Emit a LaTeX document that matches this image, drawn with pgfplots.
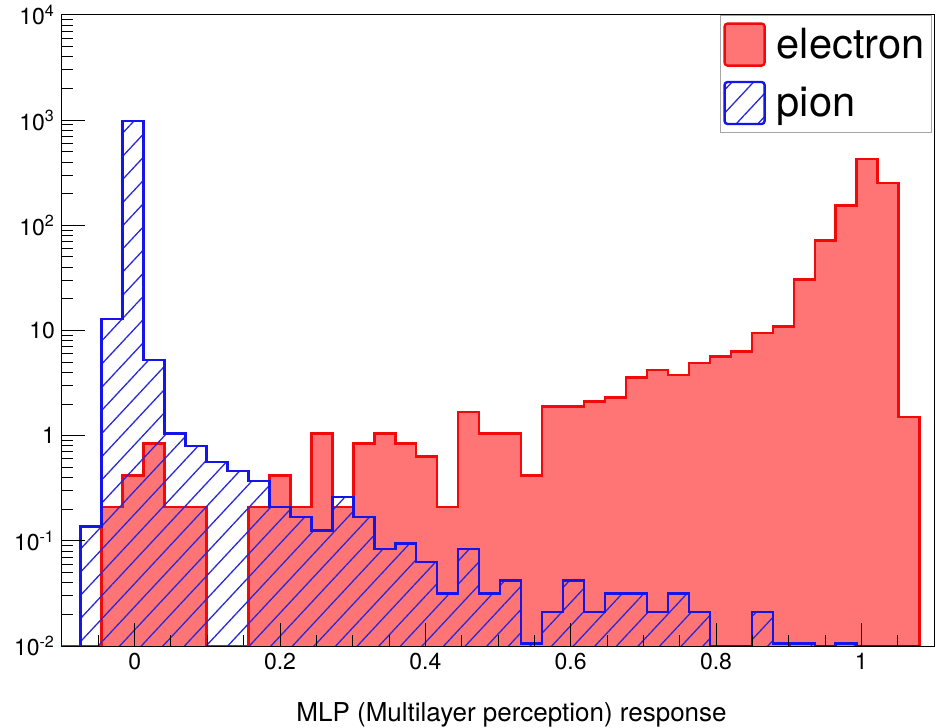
\documentclass[border=0pt]{standalone}
\usepackage{fontspec}
\setmainfont{TeX Gyre Heros}
\usepackage{pgfplots}
\pgfplotsset{compat=1.18}
\usetikzlibrary{patterns.meta}
\definecolor{efill}{RGB}{255,117,117}
\definecolor{eline}{RGB}{240,10,10}
\definecolor{pline}{RGB}{20,20,235}
\definecolor{phatch}{RGB}{40,40,220}
\pgfplotsset{boxlegend/.style={legend image code/.code={\draw[##1, line width=1.2pt, rounded corners=1.5pt] (0pt,-10.5pt) rectangle (20pt,10.5pt);}}}
\begin{document}
\begin{tikzpicture}
\useasboundingbox (-31pt,-41pt) rectangle (437.5pt,323pt);
\begin{axis}[
  scale only axis, width=436pt, height=315.5pt,
  xmin=-0.1, xmax=1.1, ymode=log, ymin=0.01, ymax=10000,
  axis on top, clip=false,
  axis line style={line width=0.5pt},
  tick align=inside, tick pos=left,
  xtick={0,0.2,0.4,0.6,0.8,1}, xticklabels={0,0.2,0.4,0.6,0.8,1},
  minor xtick={-0.1,-0.05,0.05,0.1,0.15,0.25,0.3,0.35,0.45,0.5,0.55,0.65,0.7,0.75,0.85,0.9,0.95,1.05,1.1},
  ytick={0.01,0.1,1,10,100,1000,10000},
  yticklabels={10\textsuperscript{-2},10\textsuperscript{-1},1,10,10\textsuperscript{2},10\textsuperscript{3},10\textsuperscript{4}},
  minor ytick={0.02,0.03,0.04,0.05,0.06,0.07,0.08,0.09,0.2,0.3,0.4,0.5,0.6,0.7,0.8,0.9,2,3,4,5,6,7,8,9,20,30,40,50,60,70,80,90,200,300,400,500,600,700,800,900,2000,3000,4000,5000,6000,7000,8000,9000},
  major tick length=11.5pt, minor tick length=5.5pt,
  tick style={line width=0.5pt, black},
  tick label style={font=\fontsize{11.5}{13}\selectfont},
  xlabel={MLP (Multilayer perception) response},
  xlabel style={at={(axis description cs:0.5155,0)}, anchor=base, yshift=-37.85pt, font=\fontsize{13}{15}\selectfont},
  legend style={at={(axis description cs:0.7546,1)}, anchor=north west, draw=gray!70, fill=white,
    font=\fontsize{20.8}{24}\selectfont, inner xsep=1.5pt, inner ysep=3.5pt, row sep=7pt,
    /tikz/every odd column/.append style={column sep=3.5pt}},
  legend cell align=left,
]
\addplot[const plot, draw=eline, fill=efill, line width=1.3pt, line join=miter, boxlegend]
coordinates {
(-0.1,0.01) (-0.0456,0.21) (-0.0168,0.42) (0.0121,0.84) (0.0410,0.21) (0.0699,0.21)
(0.0987,0.01) (0.1276,0.01) (0.1565,0.21) (0.1853,0.42) (0.2142,0.21) (0.2431,1.05)
(0.2719,0.21) (0.3008,0.84) (0.3297,1.05) (0.3586,0.84) (0.3874,0.63) (0.4163,0.21)
(0.4452,1.68) (0.4740,1.05) (0.5029,1.05) (0.5318,0.42) (0.5606,1.89) (0.5895,1.89)
(0.6184,2.10) (0.6473,2.31) (0.6761,3.57) (0.7050,4.20) (0.7339,3.78) (0.7627,4.9)
(0.7916,5.67) (0.8205,6.30) (0.8493,9.45) (0.8782,10.9) (0.9071,30.4) (0.9360,71.5)
(0.9648,155) (0.9937,429) (1.0226,253) (1.0514,1.5) (1.0803,1.5) (1.0803,0.01)
};
\addlegendentry{electron}
\addplot[const plot, draw=pline, line width=1.3pt, line join=miter,
  pattern={Lines[angle=47,distance=7.9pt,line width=0.65pt]}, pattern color=phatch, boxlegend]
coordinates {
(-0.0745,0.01) (-0.0745,0.136) (-0.0456,12.9) (-0.0168,980) (0.0121,5.25) (0.0410,1.05)
(0.0699,0.80) (0.0987,0.56) (0.1276,0.46) (0.1565,0.37) (0.1853,0.21) (0.2142,0.168)
(0.2431,0.126) (0.2719,0.26) (0.3008,0.168) (0.3297,0.084) (0.3586,0.0945) (0.3874,0.063)
(0.4163,0.0315) (0.4452,0.084) (0.4740,0.0315) (0.5029,0.042) (0.5318,0.0105) (0.5606,0.021)
(0.5895,0.042) (0.6184,0.021) (0.6473,0.0315) (0.6761,0.0315) (0.7050,0.021) (0.7339,0.0315)
(0.7627,0.021) (0.7916,0.01) (0.8205,0.01) (0.8493,0.021) (0.8782,0.0105) (0.9071,0.0105)
(0.9360,0.01) (0.9648,0.0105) (0.9937,0.01) (1.0226,0.01) (1.0514,0.01) (1.0803,0.01)
};
\addlegendentry{pion}
\end{axis}
\end{tikzpicture}
\end{document}
